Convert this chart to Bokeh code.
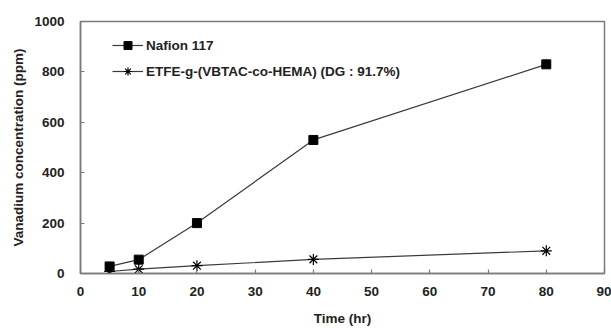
from bokeh.plotting import figure
from bokeh.models import Legend, LegendItem, FixedTicker, Range1d
from bokeh.embed import file_html
from bokeh.resources import INLINE

time_hr = [5, 10, 20, 40, 80]
nafion = [28, 55, 200, 530, 830]
etfe = [8, 17, 31, 56, 90]
x_ticks = [0, 10, 20, 30, 40, 50, 60, 70, 80, 90]
y_ticks = [0, 200, 400, 600, 800, 1000]
label_nafion = "Nafion 117"
label_etfe = "ETFE-g-(VBTAC-co-HEMA) (DG : 91.7%)"

FONT = "Liberation Sans"
AX = "#7a7a7a"

p = figure(frame_width=524, frame_height=252, output_backend="svg", toolbar_location=None,
           x_range=Range1d(0, 90), y_range=Range1d(0, 1000),
           min_border_left=80, min_border_top=21, min_border_right=7, min_border_bottom=58)
p.background_fill_color = "white"
p.border_fill_color = "white"
p.grid.visible = False
p.outline_line_color = AX
p.outline_line_width = 1.5

for ax in (p.xaxis[0], p.yaxis[0]):
    ax.axis_line_color = AX
    ax.axis_line_width = 1.5
    ax.major_tick_line_color = AX
    ax.major_tick_line_width = 1.2
    ax.major_tick_in = 4
    ax.major_tick_out = 0
    ax.minor_tick_line_color = None
    ax.major_label_text_font = FONT
    ax.major_label_text_font_style = "bold"
    ax.major_label_text_font_size = "13.5px"
    ax.major_label_text_color = "#222222"
    ax.axis_label_text_font = FONT
    ax.axis_label_text_font_style = "bold"
    ax.axis_label_text_font_size = "13.5px"
    ax.axis_label_text_color = "#222222"

p.xaxis[0].ticker = FixedTicker(ticks=x_ticks)
p.yaxis[0].ticker = FixedTicker(ticks=y_ticks)
p.xaxis[0].axis_label = "Time (hr)"
p.yaxis[0].axis_label = "Vanadium concentration (ppm)"
p.xaxis[0].major_label_standoff = 13
p.xaxis[0].axis_label_standoff = 12
p.yaxis[0].major_label_standoff = 16
p.yaxis[0].axis_label_standoff = 5

l1 = p.line(time_hr, nafion, line_color="#3a3a3a", line_width=1.2)
m1 = p.scatter(time_hr, nafion, marker="square", size=9, fill_color="black", line_color="black")
l2 = p.line(time_hr, etfe, line_color="#3a3a3a", line_width=1.2)
m2 = p.scatter(time_hr, etfe, marker="asterisk", size=11, line_color="black", line_width=1.2)

legend = Legend(items=[LegendItem(label=label_nafion, renderers=[l1, m1]),
                       LegendItem(label=label_etfe, renderers=[l2, m2])],
                location=(32, 192))
legend.margin = 0
legend.padding = 0
legend.spacing = 6
legend.glyph_width = 31
legend.glyph_height = 20
legend.label_standoff = 3
legend.border_line_alpha = 0
legend.background_fill_alpha = 0
legend.label_text_font = FONT
legend.label_text_font_style = "bold"
legend.label_text_font_size = "13.5px"
legend.label_text_color = "#222222"
p.add_layout(legend, "center")

open("out.html", "w").write(file_html(p, INLINE))
